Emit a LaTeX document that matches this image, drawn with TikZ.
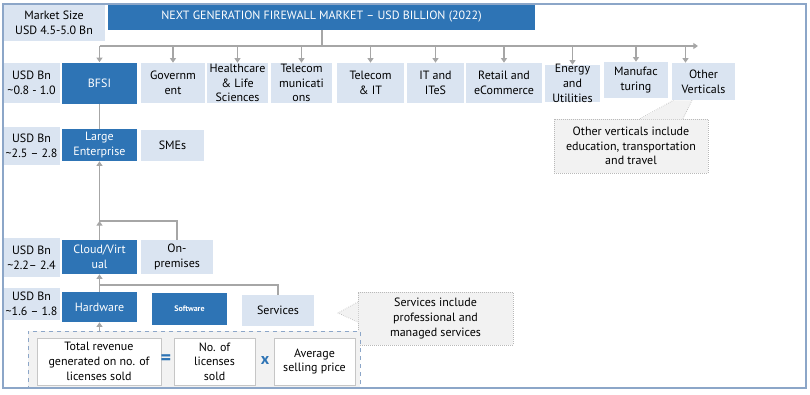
\documentclass[tikz,border=0pt]{standalone}
\usepackage{fontspec}
\setmainfont{PT Sans}
\usepackage{tikz}
\usetikzlibrary{arrows.meta, positioning, calc}
\definecolor{darkblue}{RGB}{46,116,181}
\definecolor{lightblue}{RGB}{218,228,241}
\definecolor{linegray}{RGB}{166,166,166}
\definecolor{framecol}{RGB}{140,166,200}
\definecolor{notegray}{RGB}{242,242,242}

\begin{document}
\begin{tikzpicture}[x=0.75pt, y=-0.75pt, font=\fontsize{9}{11}\selectfont,
    box/.style={rectangle, inner sep=0pt, align=center},
    wh/.style 2 args={minimum width=0.75*#1pt, minimum height=0.75*#2pt},
    dark/.style={box, fill=darkblue, text=white},
    light/.style={box, fill=lightblue},
    fbox/.style={box, fill=white, draw=gray!45, line width=0.6pt},
    note/.style={box, fill=notegray, draw=gray!55, densely dotted, line width=0.5pt},
    notedraw/.style={draw=gray!55, densely dotted, line width=0.5pt},
    conn/.style={draw=linegray, line width=1.1pt},
    arr/.style={conn, -{Triangle[width=4.5pt,length=3.5pt]}}]
    \useasboundingbox (0,0) rectangle (810,394);
    % 标题
    \node[light, wh={102}{37}] (market) at (54,22.5) {Market Size\\USD 4.5-5.0 Bn};
    \node[dark, wh={427}{26}] (title) at (321.5,17) {NEXT GENERATION FIREWALL MARKET – USD BILLION (2022)};
    % 行业
    \node[light, wh={57}{40}] (usd1) at (31.5,83) {USD Bn\\\textasciitilde0.8 - 1.0};
    \node[dark, wh={75}{41}] (bfsi) at (99.5,83) {BFSI};
    \node[light, wh={64}{40}] (gov) at (173,83) {Governm\\ent};
    \node[light, wh={61}{40}] (health) at (237.5,83) {Healthcare\\\& Life\\Sciences};
    \node[light, wh={61}{40}] (telecomm) at (301.5,83) {Telecom\\municati\\ons};
    \node[light, wh={67}{40}] (telit) at (370.5,83) {Telecom\\\& IT};
    \node[light, wh={57}{40}] (itites) at (435.5,83) {IT and\\ITeS};
    \node[light, wh={76}{40}] (retail) at (504,83) {Retail and\\eCommerce};
    \node[light, wh={55}{37}] (energy) at (572.5,83.5) {};
    \node[box] (energytxt) at (energy) {Energy\\and\\Utilities};
    \node[light, wh={64}{36}] (manuf) at (636,80) {Manufac\\turing};
    \node[light, wh={63}{37}] (other) at (703.5,81.5) {Other\\Verticals};
    \coordinate (bus) at (322,46);
    \coordinate (busend) at (698,46);
    \draw[conn] (title.south -| bus) -- (bus);
    \draw[arr] (bfsi.north |- bus) -- (busend);
    \foreach \n in {bfsi,gov,health,telecomm,telit,itites,retail,energy,manuf}{
        \draw[arr] (\n.north |- bus) -- (\n.north);
    }
    \draw[arr] ([xshift=-13.5pt]other.north |- bus) -- ([xshift=-13.5pt]other.north);
    % 说明框
    \node[note, wh={154}{54}] (othnote) at (631,146) {Other verticals include\\education, transportation\\and travel};
    \fill[notegray] ($(othnote.north)+(9,0.8)$) -- ($(other.south)+(-30,0)$) -- ($(other.south)+(-11.5,0)$) -- ($(othnote.north)+(52,0.8)$) -- cycle;
    \draw[notedraw] ($(othnote.north)+(9,0)$) -- ($(other.south)+(-30,0)$);
    \draw[notedraw] ($(other.south)+(-11.5,0)$) -- ($(othnote.north)+(52,0)$);
    % 规模
    \node[light, wh={57}{38}] (usd2) at (31.5,146) {USD Bn\\\textasciitilde2.5 – 2.8};
    \node[dark, wh={75}{32}] (large) at (99.5,145) {Large\\Enterprise};
    \node[light, wh={63}{31}] (smes) at (172.5,145.5) {SMEs};
    \draw[conn] (bfsi.south) -- (large.north);
    % 部署
    \node[light, wh={57}{39}] (usd3) at (31.5,257.5) {USD Bn\\\textasciitilde2.2– 2.4};
    \node[dark, wh={75}{34}] (cloud) at (99.5,257) {Cloud/Virt\\ual};
    \node[light, wh={72}{34}] (onprem) at (177,257) {On-\\premises};
    \coordinate (j1) at (99.5,221);
    \draw[arr] (cloud.north) -- (large.south);
    \draw[conn] (onprem.north) |- (j1);
    \draw[arr] (cloud.north) -- (j1);
    % 产品
    \node[light, wh={57}{32}] (usd4) at (31.5,304) {USD Bn\\\textasciitilde1.6 – 1.8};
    \node[dark, wh={75}{30}] (hardware) at (99.5,307) {Hardware};
    \node[dark, wh={75}{32}, font=\fontsize{6}{7}\selectfont\bfseries] (software) at (189.5,309) {Software};
    \node[light, wh={72}{31}] (services) at (278,310.5) {Services};
    \coordinate (j2) at (99.5,285);
    \draw[conn] (services.north) |- (j2);
    \draw[arr] (hardware.north) -- (cloud.south);
    \node[note, wh={155}{53}] (svcnote) at (435.5,318.5) {Services include\\professional and\\managed services};
    \coordinate (svctip) at (338,313);
    \fill[notegray] ($(svcnote.west)+(0.8,-16.5)$) -- (svctip) -- ($(svcnote.west)+(0.8,3.5)$) -- cycle;
    \draw[notedraw] ($(svcnote.west)+(0,-16.5)$) -- (svctip) -- ($(svcnote.west)+(0,3.5)$);
    % 公式
    \node[box, fill=notegray, draw=framecol, dashed, line width=0.6pt, wh={332}{57}] (formula) at (194,359.5) {};
    \draw[arr] (hardware.south |- formula.north) -- (hardware.south);
    \node[fbox, wh={124}{47}] (rev) at (99,361.5) {Total revenue\\generated on no. of\\licenses sold};
    \node[box, text=darkblue, font=\fontsize{15}{15}\selectfont\bfseries] (eq) at (166,360) {=};
    \node[fbox, wh={81}{47}] (lic) at (214.5,361.5) {No. of\\licenses\\sold};
    \node[box, text=darkblue, font=\fontsize{12}{12}\selectfont\bfseries] (times) at (265,360) {x};
    \node[fbox, wh={81}{47}] (asp) at (314.5,361.5) {Average\\selling price};
    % 外框
    \draw[framecol, line width=0.9pt] (3,4) rectangle (806,388);
\end{tikzpicture}
\end{document}
